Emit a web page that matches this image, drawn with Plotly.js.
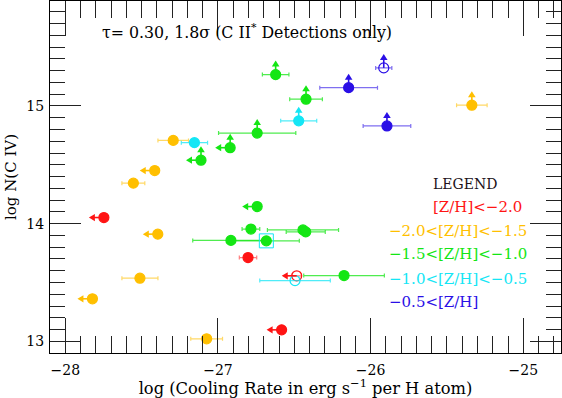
<!DOCTYPE html>
<html>
<head>
<meta charset="utf-8">
<script src="https://cdn.plot.ly/plotly-3.0.1.min.js"></script>
<style>html,body{margin:0;padding:0;background:#fff;}#chart{width:562px;height:398px;}</style>
</head>
<body>
<div id="chart"></div>
<script>
// ---- data (log cooling rate, log N(C IV), x error, limit flags) ----
// lim: 'U' = lower limit in N(C IV) (up arrow), 'L' = upper limit in cooling rate (left arrow)
const redX    = [-27.747, -26.803, -26.583, -26.484];
const redY    = [14.052, 13.712, 13.098, 13.557];
const redErr  = [0, 0.057, 0, 0.03];
const redLim  = ['L', '', 'L', 'L'];
const redOpen = [false, false, false, true];

const orangeX    = [-25.337, -27.293, -27.414, -27.554, -27.394, -27.511, -27.822, -27.074];
const orangeY    = [15.006, 14.707, 14.451, 14.344, 13.911, 13.537, 13.362, 13.022];
const orangeErr  = [0.10, 0.10, 0, 0.075, 0, 0.118, 0, 0.104];
const orangeLim  = ['U', '', 'L', '', 'L', '', 'L', ''];
const orangeOpen = [false, false, false, false, false, false, false, false];

const greenX    = [-26.622, -26.423, -26.743, -26.920, -27.111, -26.743, -26.784, -26.443, -26.425, -26.915, -26.683, -26.174];
const greenY    = [15.266, 15.057, 14.769, 14.645, 14.539, 14.145, 13.954, 13.947, 13.930, 13.858, 13.854, 13.559];
const greenErr  = [0.087, 0.107, 0.253, 0, 0, 0, 0.058, 0.233, 0.128, 0.25, 0.216, 0.264];
const greenLim  = ['U', 'U', 'U', 'LU', 'LU', 'L', '', '', '', '', '', ''];
const greenOpen = [false, false, false, false, false, false, false, false, false, false, false, false];

const cyanX    = [-26.471, -27.154, -26.495];
const cyanY    = [14.873, 14.688, 13.517];
const cyanErr  = [0.118, 0.086, 0.231];
const cyanLim  = ['U', '', ''];
const cyanOpen = [false, false, true];

const cyanBoxX = [-26.683];
const cyanBoxY = [13.854];

const blueX    = [-26.144, -25.893, -25.914];
const blueY    = [15.155, 14.830, 15.323];
const blueErr  = [0.189, 0.156, 0.053];
const blueLim  = ['U', 'U', 'U'];
const blueOpen = [false, false, true];

const legendLabels = ['[Z/H]<\u22122.0', '\u22122.0<[Z/H]<\u22121.5', '\u22121.5<[Z/H]<\u22121.0', '\u22121.0<[Z/H]<\u22120.5', '\u22120.5<[Z/H]'];
const titleText = '\u03c4= 0.30, 1.8\u03c3 (C II<sup>*</sup> Detections only)';

// ---- styles ----
const FONT = 'DejaVu Serif, Liberation Serif, serif';
const groups = [
  {x: redX, y: redY, e: redErr, lim: redLim, open: redOpen, color: '#ff1414', ecolor: 'rgba(255,20,20,0.55)'},
  {x: orangeX, y: orangeY, e: orangeErr, lim: orangeLim, open: orangeOpen, color: '#ffbf00', ecolor: 'rgba(255,191,0,0.6)'},
  {x: greenX, y: greenY, e: greenErr, lim: greenLim, open: greenOpen, color: '#14e614', ecolor: 'rgba(20,230,20,0.75)'},
  {x: cyanX, y: cyanY, e: cyanErr, lim: cyanLim, open: cyanOpen, color: '#14e6f5', ecolor: 'rgba(20,230,245,0.75)'},
  {x: blueX, y: blueY, e: blueErr, lim: blueLim, open: blueOpen, color: '#2a0fe6', ecolor: 'rgba(42,15,230,0.6)'}
];

const traces = [];
const shapes = [];
groups.forEach(g => {
  traces.push({
    type: 'scatter', mode: 'markers', x: g.x, y: g.y,
    error_x: {type: 'data', array: g.e, visible: true, color: g.ecolor, thickness: 1.2, width: 2},
    marker: {size: 10, color: g.color, symbol: g.open.map(o => o ? 'circle-open' : 'circle'), line: {width: 1.2, color: g.color}},
    showlegend: false, hoverinfo: 'x+y'
  });
  // limit arrows, anchored on each point, sized in pixels
  g.lim.forEach((l, i) => {
    const base = {xref: 'x', yref: 'y', xsizemode: 'pixel', ysizemode: 'pixel',
      xanchor: g.x[i], yanchor: g.y[i], layer: 'above'};
    if (l.includes('U')) {
      shapes.push(Object.assign({}, base, {type: 'line', x0: 0, x1: 0, y0: 0, y1: 9, line: {color: g.color, width: 1.6}}));
      shapes.push(Object.assign({}, base, {type: 'path', path: 'M0,14 L-3.8,8 L3.8,8 Z', fillcolor: g.color, line: {width: 0}}));
    }
    if (l.includes('L')) {
      shapes.push(Object.assign({}, base, {type: 'line', x0: 0, x1: -10, y0: 0, y1: 0, line: {color: g.color, width: 1.6}}));
      shapes.push(Object.assign({}, base, {type: 'path', path: 'M-15,0 L-9,3.6 L-9,-3.6 Z', fillcolor: g.color, line: {width: 0}}));
    }
  });
});
traces.push({
  type: 'scatter', mode: 'markers', x: cyanBoxX, y: cyanBoxY,
  marker: {size: 14, symbol: 'square-open', color: '#14e6f5', line: {width: 1, color: '#14e6f5'}},
  showlegend: false, hoverinfo: 'skip'
});

const annotations = [];
// title text inside plot
annotations.push({xref: 'paper', yref: 'paper', x: 0.097, y: 0.912, xanchor: 'left', yanchor: 'middle',
  text: titleText, showarrow: false, font: {family: FONT, size: 15.8, color: '#000'}});
// legend text
annotations.push({xref: 'paper', yref: 'paper', x: 0.746, y: 0.481, xanchor: 'left', yanchor: 'middle',
  text: 'LEGEND', showarrow: false, font: {family: FONT, size: 14, color: '#201018'}});
const legY = [0.4145, 0.346, 0.280, 0.2116, 0.145];
legendLabels.forEach((t, i) => {
  annotations.push({xref: 'paper', yref: 'paper', x: i === 0 ? 0.928 : 0.660, y: legY[i],
    xanchor: i === 0 ? 'right' : 'left', yanchor: 'middle', text: t, showarrow: false,
    font: {family: FONT, size: 15, color: groups[i].color}});
});

const axisCommon = {
  showline: true, linecolor: '#000', linewidth: 1, mirror: 'ticks',
  ticks: 'inside', tickcolor: '#222', tickwidth: 1,
  showgrid: false, zeroline: false,
  tickfont: {family: FONT, size: 14, color: '#000'}
};

const layout = {
  width: 562, height: 398,
  margin: {l: 50, r: 1, t: 1, b: 45},
  paper_bgcolor: '#fff', plot_bgcolor: '#fff',
  xaxis: Object.assign({}, axisCommon, {
    range: [-28.1, -24.753], tick0: -28, dtick: 1, ticklen: 35, ticklabelstandoff: 4,
    minor: {ticks: 'inside', dtick: 0.1, tick0: -28, ticklen: 17, tickcolor: '#222', tickwidth: 1, showgrid: false},
    title: {text: 'log (Cooling Rate in erg s<sup>\u22121</sup> per H atom)', font: {family: FONT, size: 16.3, color: '#000'}, standoff: 5}
  }),
  yaxis: Object.assign({}, axisCommon, {
    range: [12.9015, 15.891], tick0: 13, dtick: 1, ticklen: 31, ticklabelstandoff: 2,
    minor: {ticks: 'inside', dtick: 0.1, tick0: 13, ticklen: 15, tickcolor: '#222', tickwidth: 1, showgrid: false},
    title: {text: 'log N(C IV)', font: {family: FONT, size: 15, color: '#000'}, standoff: 6}
  }),
  shapes: shapes,
  annotations: annotations
};

Plotly.newPlot('chart', traces, layout, {displayModeBar: false, staticPlot: true});
</script>
</body>
</html>
